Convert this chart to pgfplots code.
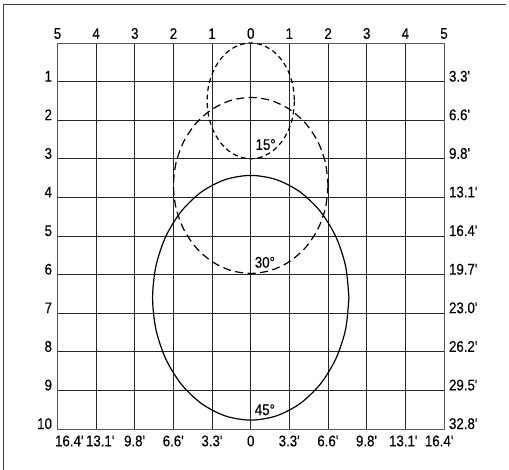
\documentclass[border=0pt]{standalone}
\usepackage{fontspec}
\setmainfont{Liberation Sans}[FakeStretch=0.86, FakeBold=0.25]
\usepackage{pgfplots}
\pgfplotsset{compat=1.18}
\newcommand{\ft}{\textquotesingle}
\newcommand{\lf}{\fontsize{15.5}{18}\selectfont}
\begin{document}
\begin{tikzpicture}[x=1bp,y=1bp]
\path[use as bounding box] (0,0) rectangle (509,470);
\draw[black!75, line width=1bp] (3,0) -- (3,465) -- (506,465);
\pgfplotsset{
  common/.style={
    at={(57.5bp,41bp)}, anchor=south west,
    scale only axis, width=386.5bp, height=386bp,
    xmin=-5, xmax=5, ymin=0, ymax=10, y dir=reverse,
    major tick length=0, clip=false,
    tick label style={font=\lf},
  }
}
\begin{axis}[common,
  xtick={-5,-4,-3,-2,-1,0,1,2,3,4,5},
  xticklabels={5,4,3,2,1,0,1,2,3,4,5},
  ytick={0,1,2,3,4,5,6,7,8,9,10},
  yticklabels={,1,2,3,4,5,6,7,8,9,10},
  xticklabel pos=upper, yticklabel pos=left,
  grid=major, grid style={black!85, line width=0.8bp},
  axis line style={black!65, line width=0.9bp},
  xticklabel style={yshift=0.5bp},
  yticklabel style={anchor=base east, xshift=-2bp},
]
% 15 degree
\addplot[black, line width=1.2bp, smooth, dash pattern=on 5bp off 3.5bp] coordinates {
(1.13,1.5) (1.0915,1.8882) (0.9786,2.25) (0.7990,2.5607) (0.565,2.799) (0.2924,2.9489)
(0,3) (-0.2924,2.9489) (-0.565,2.799) (-0.7990,2.5607) (-0.9786,2.25) (-1.0915,1.8882)
(-1.13,1.5) (-1.0915,1.1118) (-0.9786,0.75) (-0.7990,0.4393) (-0.565,0.201) (-0.2924,0.0511)
(0,0) (0.2924,0.0511) (0.565,0.201) (0.7990,0.4393) (0.9786,0.75) (1.0915,1.1118) (1.13,1.5)};
% 30 degree
\addplot[black, line width=1.2bp, smooth, dash pattern=on 8bp off 4.5bp] coordinates {
(2,3.69) (1.9318,4.2801) (1.732,4.83) (1.4142,5.3022) (1.0,5.6645) (0.5176,5.8923)
(0,5.97) (-0.5176,5.8923) (-1.0,5.6645) (-1.4142,5.3022) (-1.732,4.83) (-1.9318,4.2801)
(-2,3.69) (-1.9318,3.0999) (-1.732,2.55) (-1.4142,2.0778) (-1.0,1.7155) (-0.5176,1.4877)
(0,1.41) (0.5176,1.4877) (1.0,1.7155) (1.4142,2.0778) (1.732,2.55) (1.9318,3.0999) (2,3.69)};
% 45 degree
\addplot[black, line width=1.2bp, smooth] coordinates {
(2.54,6.6) (2.4534,7.4204) (2.1997,8.185) (1.7960,8.8415) (1.27,9.3452) (0.6574,9.6619)
(0,9.77) (-0.6574,9.6619) (-1.27,9.3452) (-1.7960,8.8415) (-2.1997,8.185) (-2.4534,7.4204)
(-2.54,6.6) (-2.4534,5.7796) (-2.1997,5.015) (-1.7960,4.3585) (-1.27,3.8548) (-0.6574,3.5381)
(0,3.43) (0.6574,3.5381) (1.27,3.8548) (1.7960,4.3585) (2.1997,5.015) (2.4534,5.7796) (2.54,6.6)};
\node[anchor=base west, inner sep=0, font=\lf] at (axis cs:0.12,2.77) {15°};
\node[anchor=base west, inner sep=0, font=\lf] at (axis cs:0.1,5.82) {30°};
\node[anchor=base west, inner sep=0, font=\lf] at (axis cs:0.1,9.64) {45°};
\end{axis}
\begin{axis}[common,
  axis line style={draw=none},
  xtick={-4.69,-3.89,-3,-2,-1,0,1,2,3,3.95,4.88},
  xticklabels={16.4\ft,13.1\ft,9.8\ft,6.6\ft,3.3\ft,0,3.3\ft,6.6\ft,9.8\ft,13.1\ft,16.4\ft},
  ytick={1,2,3,4,5,6,7,8,9,10},
  yticklabels={3.3\ft,6.6\ft,9.8\ft,13.1\ft,16.4\ft,19.7\ft,23.0\ft,26.2\ft,29.5\ft,32.8\ft},
  xticklabel pos=lower, yticklabel pos=right,
  xticklabel style={anchor=north, yshift=-3bp},
  yticklabel style={anchor=base west, xshift=1.5bp},
]
\end{axis}
\end{tikzpicture}
\end{document}
